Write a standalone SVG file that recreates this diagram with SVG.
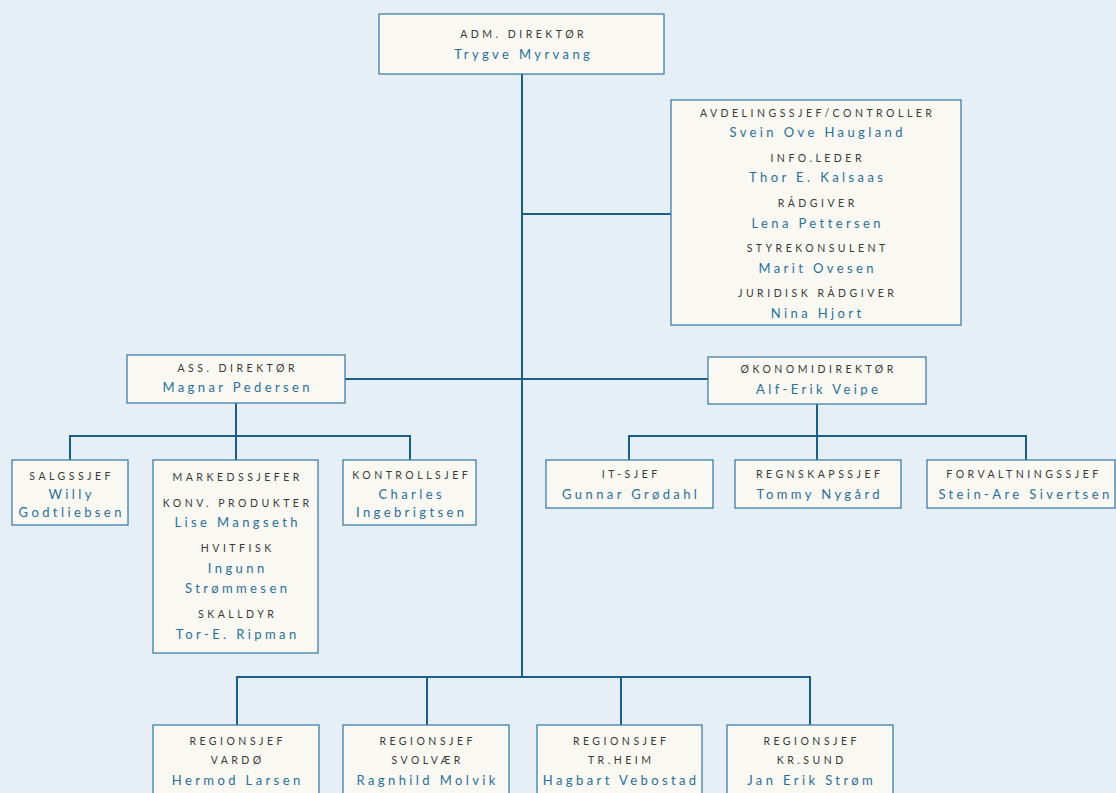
<svg xmlns="http://www.w3.org/2000/svg" width="1116" height="793" viewBox="0 0 1116 793">
<style>
.bg{fill:#e6eef6}
.box{fill:#f9f8f2;stroke:#3f7fa8;stroke-width:1.3}
.ln{fill:none;stroke:#1b5e89;stroke-width:2}
.t{font-family:Lato,"Open Sans","Liberation Sans",sans-serif;font-size:10.5px;letter-spacing:3.5px;fill:#3a3a3a;text-anchor:middle}
.n{font-family:Lato,"Open Sans","Liberation Sans",sans-serif;font-size:13px;letter-spacing:3.4px;fill:#2b6f9b;text-anchor:middle}
</style>
<rect class="bg" x="0" y="0" width="1116" height="793"/>
<g id="connectors">
<path class="ln" d="M522 74V677"/>
<path class="ln" d="M522 214H671"/>
<path class="ln" d="M345 379H708"/>
<path class="ln" d="M236 403V436M70 460V436H410V460M236 436V460"/>
<path class="ln" d="M817 404V436M629 460V436H1026V460M817 436V460"/>
<path class="ln" d="M237 725V677H810V725M427 677V725M621 677V725"/>
</g>
<g id="adm">
<rect class="box" x="379" y="14" width="285" height="60"/>
<text class="t" x="523.7" y="38">ADM. DIREKTØR</text>
<text class="n" x="523.7" y="59">Trygve Myrvang</text>
</g>
<g id="stab">
<rect class="box" x="671" y="100" width="290" height="225"/>
<text class="t" x="817.7" y="117">AVDELINGSSJEF/CONTROLLER</text>
<text class="n" x="817.7" y="137">Svein Ove Haugland</text>
<text class="t" x="817.7" y="162">INFO.LEDER</text>
<text class="n" x="817.7" y="182">Thor E. Kalsaas</text>
<text class="t" x="817.7" y="207">RÅDGIVER</text>
<text class="n" x="817.7" y="228">Lena Pettersen</text>
<text class="t" x="817.7" y="252">STYREKONSULENT</text>
<text class="n" x="817.7" y="273">Marit Ovesen</text>
<text class="t" x="817.7" y="297">JURIDISK RÅDGIVER</text>
<text class="n" x="817.7" y="318">Nina Hjort</text>
</g>
<g id="assdir">
<rect class="box" x="127" y="355" width="218" height="48"/>
<text class="t" x="237.7" y="372">ASS. DIREKTØR</text>
<text class="n" x="237.7" y="392">Magnar Pedersen</text>
</g>
<g id="okdir">
<rect class="box" x="708" y="357" width="218" height="47"/>
<text class="t" x="818.7" y="373">ØKONOMIDIREKTØR</text>
<text class="n" x="818.7" y="394">Alf-Erik Veipe</text>
</g>
<g id="salg">
<rect class="box" x="12" y="460" width="116" height="65"/>
<text class="t" x="71.7" y="480">SALGSSJEF</text>
<text class="n" x="71.7" y="499">Willy</text>
<text class="n" x="71.7" y="517">Godtliebsen</text>
</g>
<g id="marked">
<rect class="box" x="153" y="460" width="165" height="193"/>
<text class="t" x="237.7" y="481">MARKEDSSJEFER</text>
<text class="t" x="237.7" y="507">KONV. PRODUKTER</text>
<text class="n" x="237.7" y="527">Lise Mangseth</text>
<text class="t" x="237.7" y="552">HVITFISK</text>
<text class="n" x="237.7" y="573">Ingunn</text>
<text class="n" x="237.7" y="593">Strømmesen</text>
<text class="t" x="237.7" y="618">SKALLDYR</text>
<text class="n" x="237.7" y="639">Tor-E. Ripman</text>
</g>
<g id="kontroll">
<rect class="box" x="343" y="460" width="133" height="65"/>
<text class="t" x="411.7" y="479">KONTROLLSJEF</text>
<text class="n" x="411.7" y="499">Charles</text>
<text class="n" x="411.7" y="517">Ingebrigtsen</text>
</g>
<g id="it">
<rect class="box" x="546" y="460" width="167" height="48"/>
<text class="t" x="631.2" y="478">IT-SJEF</text>
<text class="n" x="631.2" y="499">Gunnar Grødahl</text>
</g>
<g id="regnskap">
<rect class="box" x="735" y="460" width="166" height="48"/>
<text class="t" x="819.7" y="478">REGNSKAPSSJEF</text>
<text class="n" x="819.7" y="499">Tommy Nygård</text>
</g>
<g id="forvaltning">
<rect class="box" x="927" y="460" width="188" height="48"/>
<text class="t" x="1024" y="478">FORVALTNINGSSJEF</text>
<text class="n" x="1025.5" y="499">Stein-Are Sivertsen</text>
</g>
<g id="vardo">
<rect class="box" x="153" y="725" width="166" height="80"/>
<text class="t" x="237.7" y="745">REGIONSJEF</text>
<text class="t" x="237.7" y="764">VARDØ</text>
<text class="n" x="237.7" y="785">Hermod Larsen</text>
</g>
<g id="svolvaer">
<rect class="box" x="343" y="725" width="166" height="80"/>
<text class="t" x="427.7" y="745">REGIONSJEF</text>
<text class="t" x="427.7" y="764">SVOLVÆR</text>
<text class="n" x="427.7" y="785">Ragnhild Molvik</text>
</g>
<g id="trheim">
<rect class="box" x="537" y="725" width="165" height="80"/>
<text class="t" x="621.2" y="745">REGIONSJEF</text>
<text class="t" x="621.2" y="764">TR.HEIM</text>
<text class="n" x="621.2" y="785">Hagbart Vebostad</text>
</g>
<g id="krsund">
<rect class="box" x="727" y="725" width="166" height="80"/>
<text class="t" x="811.7" y="745">REGIONSJEF</text>
<text class="t" x="811.7" y="764">KR.SUND</text>
<text class="n" x="811.7" y="785">Jan Erik Strøm</text>
</g>
</svg>
